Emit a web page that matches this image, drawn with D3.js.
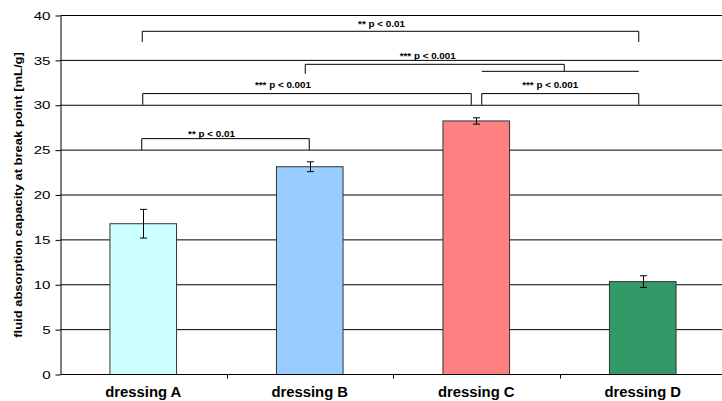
<!DOCTYPE html>
<html>
<head>
<meta charset="utf-8">
<script src="https://cdn.jsdelivr.net/npm/d3@7"></script>
<style>
  body { margin: 0; background: #fff; }
  text { font-family: "Liberation Sans", Arial, sans-serif; fill: #000; }
</style>
</head>
<body>
<script>
// values
let categories = ['dressing A', 'dressing B', 'dressing C', 'dressing D'];
let means = [16.8, 23.15, 28.25, 10.35];
let errors = [1.6, 0.55, 0.35, 0.65];
let yTicks = [0, 5, 10, 15, 20, 25, 30, 35, 40];
let yTitle = 'fluid absorption capacity at break point [mL/g]';

// significance brackets (from / to category, height of the bar, foot of the legs)
let bracketFrom = ['dressing A', 'dressing B', 'dressing A', 'dressing C', 'dressing A'];
let bracketTo = ['dressing D', 'dressing C+D', 'dressing C', 'dressing D', 'dressing B'];
let bracketTop = [38.24, 34.56, 31.3, 31.3, 26.28];
let bracketFoot = [37.05, 33.5, 30.05, 30.05, 25];
let bracketLabels = ['** p < 0.01', '*** p < 0.001', '*** p < 0.001', '*** p < 0.001', '** p < 0.01'];
// the C+D group line the B bracket hangs onto
let groupMembers = ['dressing C', 'dressing D'];
let groupLevel = 33.78;

// styling / layout only
let barColors = ['#ccffff', '#99ccff', '#ff8080', '#339966'];
let endNudge = [[-1, -4], [-4.5, 4], [-0.5, -5], [5.5, -4], [-1.5, -0.5]];
let labelNudge = [[-9, -4.3], [-7, -5.7], [-24, -6], [-10, -6], [-14, -1.3]];

let width = 722;
let height = 401;
let margin = { top: 15.5, right: -4, bottom: 26.5, left: 60.5 };

let svg = d3.select('body').append('svg')
    .attr('width', width)
    .attr('height', height);

let x = d3.scaleBand()
    .domain(categories)
    .range([margin.left - 0.5, width - margin.right])
    .padding(0);

let y = d3.scaleLinear()
    .domain([0, 40])
    .range([height - margin.bottom, margin.top]);

function cx(c) { return x(c) + x.bandwidth() / 2; }

// stretch text horizontally like the reference
function stretch(sel, k) {
  sel.each(function() {
    let w = this.getComputedTextLength();
    d3.select(this).attr('textLength', w * k).attr('lengthAdjust', 'spacingAndGlyphs');
  });
}

// grid lines
svg.append('g')
  .selectAll('line')
  .data(yTicks.filter(function(d) { return d > 0; }))
  .enter().append('line')
    .attr('x1', margin.left)
    .attr('x2', width)
    .attr('y1', function(d) { return y(d); })
    .attr('y2', function(d) { return y(d); })
    .attr('stroke', '#000')
    .attr('stroke-width', 1);

// bars
let barW = x.bandwidth() * 0.4;
svg.append('g')
  .selectAll('rect')
  .data(categories)
  .enter().append('rect')
    .attr('x', function(d) { return cx(d) - barW / 2; })
    .attr('y', function(d, i) { return y(means[i]); })
    .attr('width', barW)
    .attr('height', function(d, i) { return y(0) - y(means[i]); })
    .attr('fill', function(d, i) { return barColors[i]; })
    .attr('stroke', '#333')
    .attr('stroke-width', 1);

// error bars
let err = svg.append('g').attr('stroke', '#000').attr('stroke-width', 1);
categories.forEach(function(c, i) {
  let xc = Math.round(cx(c)) + 0.5;
  let hi = y(means[i] + errors[i]);
  let lo = y(means[i] - errors[i]);
  err.append('line').attr('x1', xc).attr('x2', xc).attr('y1', hi).attr('y2', lo);
  err.append('line').attr('x1', xc - 3.5).attr('x2', xc + 3.5).attr('y1', hi).attr('y2', hi);
  err.append('line').attr('x1', xc - 3.5).attr('x2', xc + 3.5).attr('y1', lo).attr('y2', lo);
});

// y axis
let yAxis = d3.axisLeft(y).tickValues(yTicks).tickSize(5).tickPadding(5).tickSizeOuter(0);
let gy = svg.append('g')
    .attr('transform', 'translate(' + margin.left + ',0)')
    .call(yAxis);
gy.select('.domain').attr('stroke', '#000');
gy.selectAll('.tick line').attr('stroke', '#000');
gy.selectAll('.tick text')
    .attr('font-size', '11.6px')
    .attr('font-family', '"Liberation Sans", Arial, sans-serif')
    .attr('fill', '#000')
    .call(stretch, 1.3);

// x axis: baseline plus ticks at the category boundaries
let gx = svg.append('g').attr('stroke', '#000');
gx.append('line')
    .attr('x1', margin.left)
    .attr('x2', width)
    .attr('y1', y(0))
    .attr('y2', y(0));
gx.selectAll('.sep')
  .data(categories.slice(1))
  .enter().append('line')
    .attr('class', 'sep')
    .attr('x1', function(d) { return Math.round(x(d)) + 0.5; })
    .attr('x2', function(d) { return Math.round(x(d)) + 0.5; })
    .attr('y1', y(0))
    .attr('y2', y(0) + 4);

svg.append('g')
  .selectAll('text')
  .data(categories)
  .enter().append('text')
    .attr('x', function(d) { return cx(d); })
    .attr('y', 397)
    .attr('text-anchor', 'middle')
    .attr('font-size', '14px')
    .attr('font-weight', 'bold')
    .text(function(d) { return d; })
    .call(stretch, 1.06);

// y title
svg.append('text')
    .attr('transform', 'translate(22,195) rotate(-90)')
    .attr('text-anchor', 'middle')
    .attr('font-size', '11px')
    .attr('font-weight', 'bold')
    .text(yTitle)
    .call(stretch, 1.18);

// significance brackets
let br = svg.append('g').attr('fill', 'none').attr('stroke', '#000').attr('stroke-width', 1);
let gx1 = cx(groupMembers[0]) + 5.5;
let gx2 = cx(groupMembers[1]) - 4;
br.append('line')
    .attr('x1', gx1).attr('x2', gx2)
    .attr('y1', y(groupLevel)).attr('y2', y(groupLevel));

bracketLabels.forEach(function(label, i) {
  let x1 = cx(bracketFrom[i]) + endNudge[i][0];
  let x2 = bracketTo[i] === 'dressing C+D' ? (gx1 + gx2) / 2 + endNudge[i][1] : cx(bracketTo[i]) + endNudge[i][1];
  let yt = y(bracketTop[i]);
  let footR = bracketTo[i] === 'dressing C+D' ? groupLevel : bracketFoot[i];
  br.append('path')
      .attr('d', d3.line()([[x1, y(bracketFoot[i])], [x1, yt], [x2, yt], [x2, y(footR)]]));
  svg.append('text')
      .attr('x', (x1 + x2) / 2 + labelNudge[i][0])
      .attr('y', yt + labelNudge[i][1])
      .attr('text-anchor', 'middle')
      .attr('font-size', '8.8px')
      .attr('font-weight', 'bold')
      .text(label)
      .call(stretch, 1.12);
});
</script>
</body>
</html>
